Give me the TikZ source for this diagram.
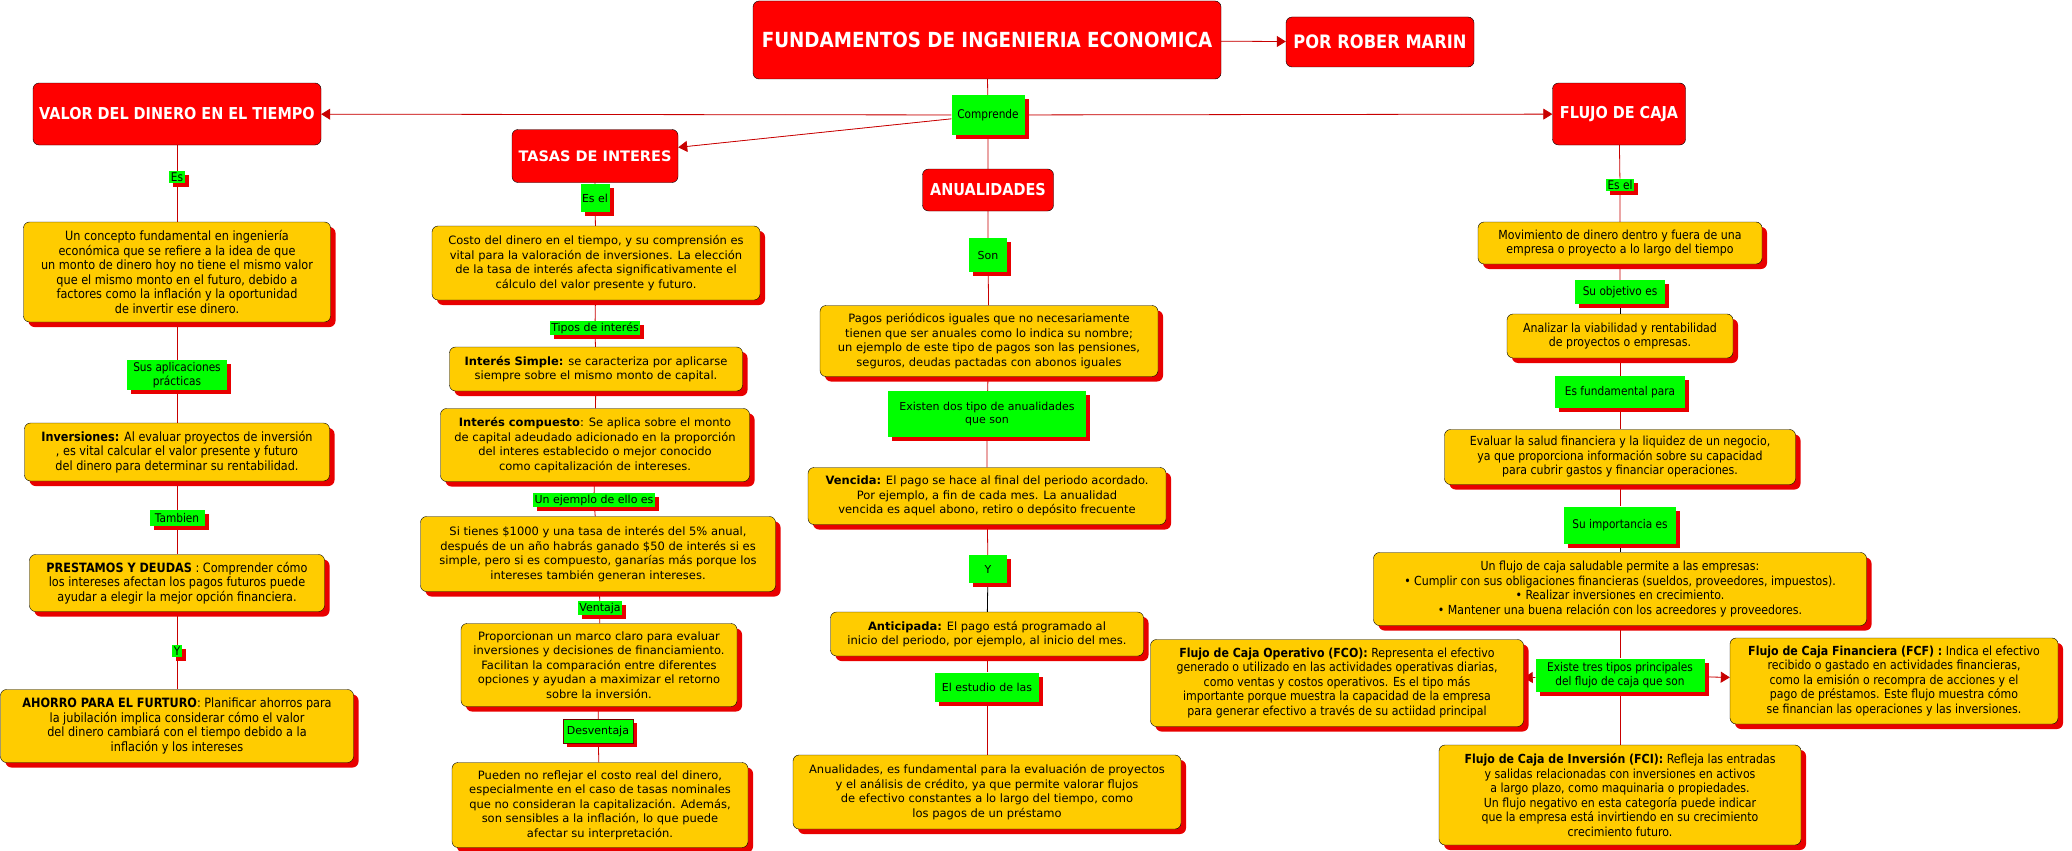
\documentclass[tikz,border=0pt]{standalone}
\usepackage{fontspec}
\setmainfont{DejaVu Sans}
\newfontfamily\narrowfont{DejaVu Sans}[FakeStretch=0.88]
\usetikzlibrary{arrows.meta,positioning,shadows,backgrounds}
\definecolor{topicred}{RGB}{255,0,0}
\definecolor{cardyellow}{RGB}{255,204,0}
\definecolor{taggreen}{RGB}{0,255,0}
\definecolor{shadered}{RGB}{232,0,0}
\definecolor{linkred}{RGB}{200,0,0}

\begin{document}
\begin{tikzpicture}[
    x=1pt, y=-1pt,
    boxsize/.style 2 args={minimum width=#1pt, minimum height=#2pt},
    topic/.style={draw=black, fill=topicred, rounded corners=6pt, text=white, align=center, inner sep=2pt, font=\narrowfont\bfseries\fontsize{16.4}{19}\selectfont},
    card/.style={draw=black, fill=cardyellow, rounded corners=6pt, align=center, inner sep=2pt, font=\fontsize{11.5}{14.5}\selectfont,
      drop shadow={shadow xshift=5pt, shadow yshift=-5pt, fill=shadered, opacity=1}},
    narrowcard/.style={card, font=\narrowfont\fontsize{12.5}{14.5}\selectfont},
    widecard/.style={card, font=\narrowfont\fontsize{12.8}{14.5}\selectfont},
    tag/.style={fill=taggreen, align=center, inner sep=1.5pt, font=\fontsize{11}{13}\selectfont,
      drop shadow={shadow xshift=4pt, shadow yshift=-4pt, fill=shadered, opacity=1}},
    narrowtag/.style={tag, font=\narrowfont\fontsize{12}{14}\selectfont},
    link/.style={draw=linkred, line width=0.8pt},
    darklink/.style={draw=black, line width=0.8pt},
    arrow/.style={link, -{Triangle[length=9pt, width=11pt]}, fill=linkred}
  ]
    \useasboundingbox (0,0) rectangle (2072,851);

    \node[topic, boxsize={468}{78}, font=\narrowfont\bfseries\fontsize{20.8}{24}\selectfont] (title) at (987,40) {FUNDAMENTOS DE INGENIERIA ECONOMICA};
    \node[topic, boxsize={188}{50}, font=\narrowfont\bfseries\fontsize{18.5}{22}\selectfont] (author) at (1380,42) {POR ROBER MARIN};
    \node[narrowtag, boxsize={73}{40}] (comprende) at (988,115) {Comprende};
    \node[topic, boxsize={288}{62}] (valor) at (177,114) {VALOR DEL DINERO EN EL TIEMPO};
    \node[topic, boxsize={166}{53}, font=\bfseries\fontsize{14.5}{17}\selectfont] (tasas) at (595,156) {TASAS DE INTERES};
    \node[topic, boxsize={131}{42}] (anual) at (988,190) {ANUALIDADES};
    \node[topic, boxsize={133}{62}] (flujo) at (1619,114) {FLUJO DE CAJA};

    \node[narrowtag] (es) at (177,177) {Es};
    \node[widecard, boxsize={307}{100}] (concepto) at (177,272) {Un concepto fundamental en ingeniería\\económica que se refiere a la idea de que\\un monto de dinero hoy no tiene el mismo valor\\que el mismo monto en el futuro, debido a\\factores como la inflación y la oportunidad\\de invertir ese dinero.};
    \node[narrowtag, boxsize={100}{30}] (aplicaciones) at (177,375) {Sus aplicaciones\\prácticas};
    \node[widecard, boxsize={305}{58}] (inversiones) at (177,452) {\textbf{Inversiones:} Al evaluar proyectos de inversión\\, es vital calcular el valor presente y futuro\\del dinero para determinar su rentabilidad.};
    \node[narrowtag, boxsize={55}{16}] (tambien) at (177,518) {Tambien};
    \node[widecard, boxsize={295}{57}] (prestamos) at (177,583) {\textbf{PRESTAMOS Y DEUDAS} : Comprender cómo\\los intereses afectan los pagos futuros puede\\ayudar a elegir la mejor opción financiera.};
    \node[narrowtag] (y1) at (177,651) {Y};
    \node[widecard, boxsize={353}{73}] (ahorro) at (177,726) {\textbf{AHORRO PARA EL FURTURO}: Planificar ahorros para\\la jubilación implica considerar cómo el valor\\del dinero cambiará con el tiempo debido a la\\inflación y los intereses};

    \node[tag, boxsize={29}{28}] (esel) at (595,198) {Es el};
    \node[card, boxsize={328}{74}] (costo) at (596,263) {Costo del dinero en el tiempo, y su comprensión es\\vital para la valoración de inversiones. La elección\\de la tasa de interés afecta significativamente el\\cálculo del valor presente y futuro.};
    \node[tag] (tipos) at (595,328) {Tipos de interés};
    \node[card, boxsize={293}{44}] (simple) at (596,369) {\textbf{Interés Simple:} se caracteriza por aplicarse\\siempre sobre el mismo monto de capital.};
    \node[card, boxsize={309}{73}] (compuesto) at (595,445) {\textbf{Interés compuesto}: Se aplica sobre el monto\\de capital adeudado adicionado en la proporción\\del interes establecido o mejor conocido\\como capitalización de intereses.};
    \node[tag] (ejemplo) at (594,500) {Un ejemplo de ello es};
    \node[card, boxsize={355}{75}] (caso) at (598,554) {Si tienes \$1000 y una tasa de interés del 5\% anual,\\después de un año habrás ganado \$50 de interés si es\\simple, pero si es compuesto, ganarías más porque los\\intereses también generan intereses.};
    \node[tag] (ventaja) at (600,608) {Ventaja};
    \node[card, boxsize={276}{83}] (pros) at (599,665) {Proporcionan un marco claro para evaluar\\inversiones y decisiones de financiamiento.\\Facilitan la comparación entre diferentes\\opciones y ayudan a maximizar el retorno\\sobre la inversión.};
    \node[tag, boxsize={70}{24}, draw=red!45!black, line width=0.5pt] (desventaja) at (598,731) {Desventaja};
    \node[card, boxsize={296}{85}] (contras) at (600,805) {Pueden no reflejar el costo real del dinero,\\especialmente en el caso de tasas nominales\\que no consideran la capitalización. Además,\\son sensibles a la inflación, lo que puede\\afectar su interpretación.};

    \node[tag, boxsize={38}{34}] (son) at (988,255) {Son};
    \node[card, boxsize={338}{71}] (pagos) at (989,341) {Pagos periódicos iguales que no necesariamente\\tienen que ser anuales como lo indica su nombre;\\un ejemplo de este tipo de pagos son las pensiones,\\seguros, deudas pactadas con abonos iguales};
    \node[tag, boxsize={198}{46}] (existen) at (987,414) {Existen dos tipo de anualidades\\que son};
    \node[card, boxsize={358}{57}] (vencida) at (987,496) {\textbf{Vencida:} El pago se hace al final del periodo acordado.\\Por ejemplo, a fin de cada mes. La anualidad\\vencida es aquel abono, retiro o depósito frecuente};
    \node[tag, boxsize={38}{28}] (y2) at (988,569) {Y};
    \node[card, boxsize={313}{44}] (anticipada) at (987,634) {\textbf{Anticipada:} El pago está programado al\\inicio del periodo, por ejemplo, al inicio del mes.};
    \node[tag, boxsize={104}{29}] (estudio) at (987,687) {El estudio de las};
    \node[card, boxsize={388}{74}] (importancia) at (987,792) {Anualidades, es fundamental para la evaluación de proyectos\\y el análisis de crédito, ya que permite valorar flujos\\de efectivo constantes a lo largo del tiempo, como\\los pagos de un préstamo};

    \node[narrowtag] (esel2) at (1620,185) {Es el};
    \node[narrowcard, boxsize={284}{42}] (movimiento) at (1620,243) {Movimiento de dinero dentro y fuera de una\\empresa o proyecto a lo largo del tiempo};
    \node[narrowtag, boxsize={90}{24}] (objetivo) at (1620,292) {Su objetivo es};
    \node[narrowcard, boxsize={226}{44}] (analizar) at (1620,336) {Analizar la viabilidad y rentabilidad\\de proyectos o empresas.};
    \node[narrowtag, boxsize={130}{32}] (fundamental) at (1620,392) {Es fundamental para};
    \node[narrowcard, boxsize={351}{55}] (evaluar) at (1620,457) {Evaluar la salud financiera y la liquidez de un negocio,\\ya que proporciona información sobre su capacidad\\para cubrir gastos y financiar operaciones.};
    \node[narrowtag, boxsize={112}{37}] (suimportancia) at (1620,525) {Su importancia es};
    \node[narrowcard, boxsize={493}{73}] (saludable) at (1620,589) {Un flujo de caja saludable permite a las empresas:\\\textbullet{} Cumplir con sus obligaciones financieras (sueldos, proveedores, impuestos).\\\textbullet{} Realizar inversiones en crecimiento.\\\textbullet{} Mantener una buena relación con los acreedores y proveedores.};
    \node[narrowtag, boxsize={169}{33}] (trestipos) at (1620,675) {Existe tres tipos principales\\del flujo de caja que son};
    \node[narrowcard, boxsize={373}{87}] (fco) at (1337,683) {\textbf{Flujo de Caja Operativo (FCO):} Representa el efectivo\\generado o utilizado en las actividades operativas diarias,\\como ventas y costos operativos. Es el tipo más\\importante porque muestra la capacidad de la empresa\\para generar efectivo a través de su actiidad principal};
    \node[narrowcard, boxsize={328}{86}] (fcf) at (1894,681) {\textbf{Flujo de Caja Financiera (FCF) :} Indica el efectivo\\recibido o gastado en actividades financieras,\\como la emisión o recompra de acciones y el\\pago de préstamos. Este flujo muestra cómo\\se financian las operaciones y las inversiones.};
    \node[narrowcard, boxsize={362}{100}] (fci) at (1620,795) {\textbf{Flujo de Caja de Inversión (FCI):} Refleja las entradas\\y salidas relacionadas con inversiones en activos\\a largo plazo, como maquinaria o propiedades.\\Un flujo negativo en esta categoría puede indicar\\que la empresa está invirtiendo en su crecimiento\\crecimiento futuro.};

    \begin{scope}[on background layer]
      \fill[white] (0,0) rectangle (2072,851);
      \draw[link] (title) -- (comprende) -- (anual);
      \draw[arrow] (title) -- (author);
      \draw[arrow] (comprende) -- (valor);
      \draw[arrow] (comprende) -- (flujo);
      \draw[arrow] (comprende) -- (tasas);
      \draw[link] (valor) -- (es) -- (concepto) -- (aplicaciones) -- (inversiones) -- (tambien) -- (prestamos) -- (y1) -- (ahorro);
      \draw[link] (tasas) -- (esel) -- (costo) -- (tipos) -- (simple) -- (compuesto) -- (ejemplo) -- (caso) -- (ventaja) -- (pros) -- (desventaja) -- (contras);
      \draw[link] (anual) -- (son) -- (pagos) -- (existen) -- (vencida) -- (y2);
      \draw[darklink] (y2) -- (anticipada);
      \draw[link] (anticipada) -- (estudio) -- (importancia);
      \draw[link] (flujo) -- (esel2) -- (movimiento) -- (objetivo);
      \draw[darklink] (objetivo) -- (analizar);
      \draw[link] (analizar) -- (fundamental) -- (evaluar) -- (suimportancia);
      \draw[darklink] (suimportancia) -- (saludable);
      \draw[link] (saludable) -- (trestipos) -- (fci);
      \draw[arrow] (trestipos) -- (fco);
      \draw[arrow] (trestipos) -- (fcf);
    \end{scope}
  \end{tikzpicture}
\end{document}
